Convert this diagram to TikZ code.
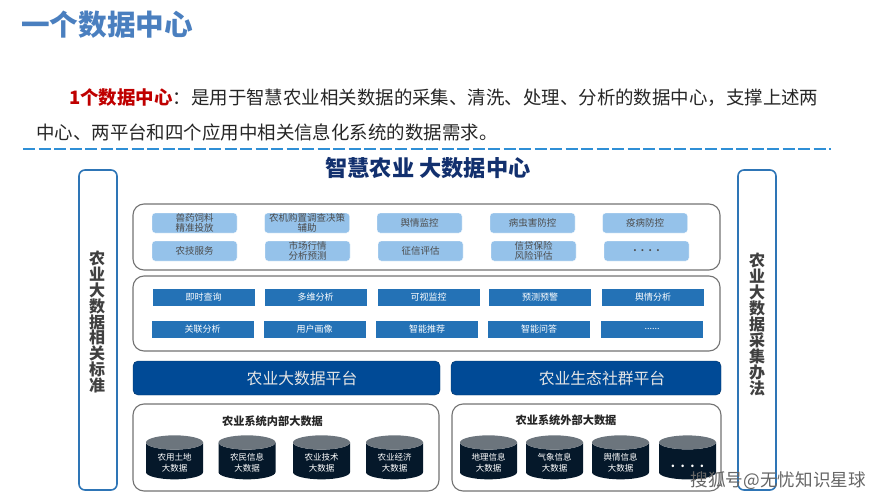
\documentclass[tikz,border=0pt]{standalone}
\usepackage{fontspec}
\setmainfont{Noto Sans CJK SC}
\usetikzlibrary{positioning,shapes.geometric}
\definecolor{headblue}{HTML}{4A7FBF}
\definecolor{linkblue}{HTML}{2F8FD6}
\definecolor{navy}{HTML}{12306E}
\definecolor{edgeblue}{HTML}{2E75B6}
\definecolor{lightbtn}{HTML}{95C2EA}
\definecolor{darkbtn}{HTML}{2472B6}
\definecolor{platblue}{HTML}{004A96}
\definecolor{drum}{HTML}{05182A}
\definecolor{drumtop}{HTML}{6C757D}
\newcommand{\moredots}{......}
\newcommand{\tightlines}{\setlength{\lineskiplimit}{-6pt}}
\tikzset{
  panel/.style={draw=black!55,line width=1.1pt,rounded corners=11pt,fill=white,inner sep=0pt},
  sidebar/.style={draw=edgeblue,line width=1.6pt,rounded corners=6pt,fill=white,
    minimum width=38pt,minimum height=320pt,inner sep=0pt},
  sidelabel/.style={align=center,inner sep=0pt,text=black!75,
    font=\fontsize{16}{15.9}\selectfont\bfseries\tightlines},
  usebtn/.style={fill=lightbtn,draw=white,rounded corners=3pt,align=center,minimum width=85pt,
    minimum height=20pt,inner sep=0pt,font=\fontsize{9.5}{10}\selectfont\tightlines,text=black!70},
  toolbtn/.style={fill=darkbtn,draw=white,align=center,minimum width=103pt,minimum height=18pt,
    inner sep=0pt,font=\fontsize{9}{10}\selectfont,text=white},
  platform/.style={fill=platblue,draw=platblue!70!black,rounded corners=5pt,minimum height=34pt,inner sep=0pt,
    font=\fontsize{15.8}{16}\selectfont,text=white!90!black},
  store/.style={cylinder,shape border rotate=90,aspect=0.42,cylinder uses custom fill,
    cylinder body fill=drum,cylinder end fill=drumtop,minimum width=57pt,minimum height=44pt,
    inner ysep=-3pt,inner xsep=0pt,align=center,font=\fontsize{8.5}{10.5}\selectfont\tightlines,text=white},
  paneltitle/.style={font=\fontsize{11.2}{12}\selectfont\bfseries,text=black!85,inner sep=0pt}
}
\begin{document}
\begin{tikzpicture}[x=1pt,y=-1pt]
\useasboundingbox (0,0) rectangle (889,500);
% heading and intro
\node[anchor=west,inner sep=0pt,text=headblue,font=\fontsize{28.6}{30}\selectfont\bfseries] (title) at (21,25) {一个数据中心};
\node[anchor=west,inner sep=0pt,font=\fontsize{18.45}{20}\selectfont,text=black!85] (introa) at (69,98)
  {\textcolor{red!75!black}{\bfseries 1个数据中心}：是用于智慧农业相关数据的采集、清洗、处理、分析的数据中心，支撑上述两};
\node[anchor=west,inner sep=0pt,font=\fontsize{18.45}{20}\selectfont,text=black!85] (introb) at (36,132)
  {中心、两平台和四个应用中相关信息化系统的数据需求。};
\coordinate (rulea) at (23,149);
\coordinate (ruleb) at (831,149);
\draw[linkblue,line width=1.3pt,dash pattern=on 12pt off 3.5pt] (rulea)--(ruleb);
\node[inner sep=0pt,text=navy,font=\fontsize{22.2}{24}\selectfont\bfseries] (head) at (428,168) {智慧农业 大数据中心};
% side bars
\node[sidebar] (stdbar) at (98,330) {};
\node[sidelabel] (stdtext) at (97,322) {农\\业\\大\\数\\据\\相\\关\\标\\准};
\node[sidebar] (colbar) at (757,330) {};
\node[sidelabel] (coltext) at (757,324.5) {农\\业\\大\\数\\据\\采\\集\\办\\法};
% application panel
\node[panel,minimum width=587pt,minimum height=66pt] (apps) at (426.5,237) {};
\foreach \n/\x/\t in {a/194.5/{兽药饲料\\精准投放},b/307/{农机购置调查决策\\辅助},c/419.5/舆情监控,d/532.5/病虫害防控,e/645/疫病防控}
  \node[usebtn] (use\n) at (\x,223) {\t};
\foreach \n/\x/\t in {f/194.5/农技服务,g/307.5/{市场行情\\分析预测},h/420.5/征信评估,i/533.5/{信贷保险\\风险评估},j/646.5/{\textbf{.\ \ .\ \ .\ \ .}}}
  \node[usebtn] (use\n) at (\x,251) {\t};
% analysis panel
\node[panel,minimum width=587pt,minimum height=75pt] (tools) at (426.5,313.5) {};
\foreach \n/\x/\t in {a/203.5/即时查询,b/315.5/多维分析,c/428.5/可视监控,d/540/预测预警,e/653/舆情分析}
  \node[toolbtn] (tool\n) at (\x,297) {\t};
\foreach \n/\x/\t in {f/202.5/关联分析,g/314.5/用户画像,h/427/智能推荐,i/539/智能问答,j/652/\moredots}
  \node[toolbtn] (tool\n) at (\x,329) {\t};
% platforms
\node[platform,minimum width=307pt] (farmplat) at (286.5,378) {\hspace*{31pt}农业大数据平台};
\node[platform,minimum width=270pt] (ecoplat) at (586,378) {\hspace*{32pt}农业生态社群平台};
% data stores
\node[panel,minimum width=306pt,minimum height=87pt] (inner) at (286,447.5) {};
\node[paneltitle] (innertitle) at (272.5,421) {农业系统内部大数据};
\foreach \n/\x/\t in {a/174.5/农用土地,b/247/农民信息,c/321.5/农业技术,d/394.5/农业经济}
  \node[store] (in\n) at (\x,461) {\rule{0pt}{11pt}\t\\大数据};
\node[panel,minimum width=269pt,minimum height=87pt] (outer) at (586.5,447.5) {};
\node[paneltitle] (outertitle) at (566,420) {农业系统外部大数据};
\foreach \n/\x/\t in {a/488.5/地理信息,b/554.5/气象信息,c/620.5/舆情信息}
  \node[store] (out\n) at (\x,461) {\rule{0pt}{11pt}\t\\大数据};
\node[store,font=\fontsize{12}{12}\selectfont\bfseries] (outd) at (687.5,461) {\rule{0pt}{14pt}.\ \ .\ \ .\ \ .};
% source mark
\node[anchor=east,inner sep=0pt,text=black!60,font=\fontsize{17.6}{18}\selectfont] (mark) at (866,481) {搜狐号@无忧知识星球};
\end{tikzpicture}
\end{document}
